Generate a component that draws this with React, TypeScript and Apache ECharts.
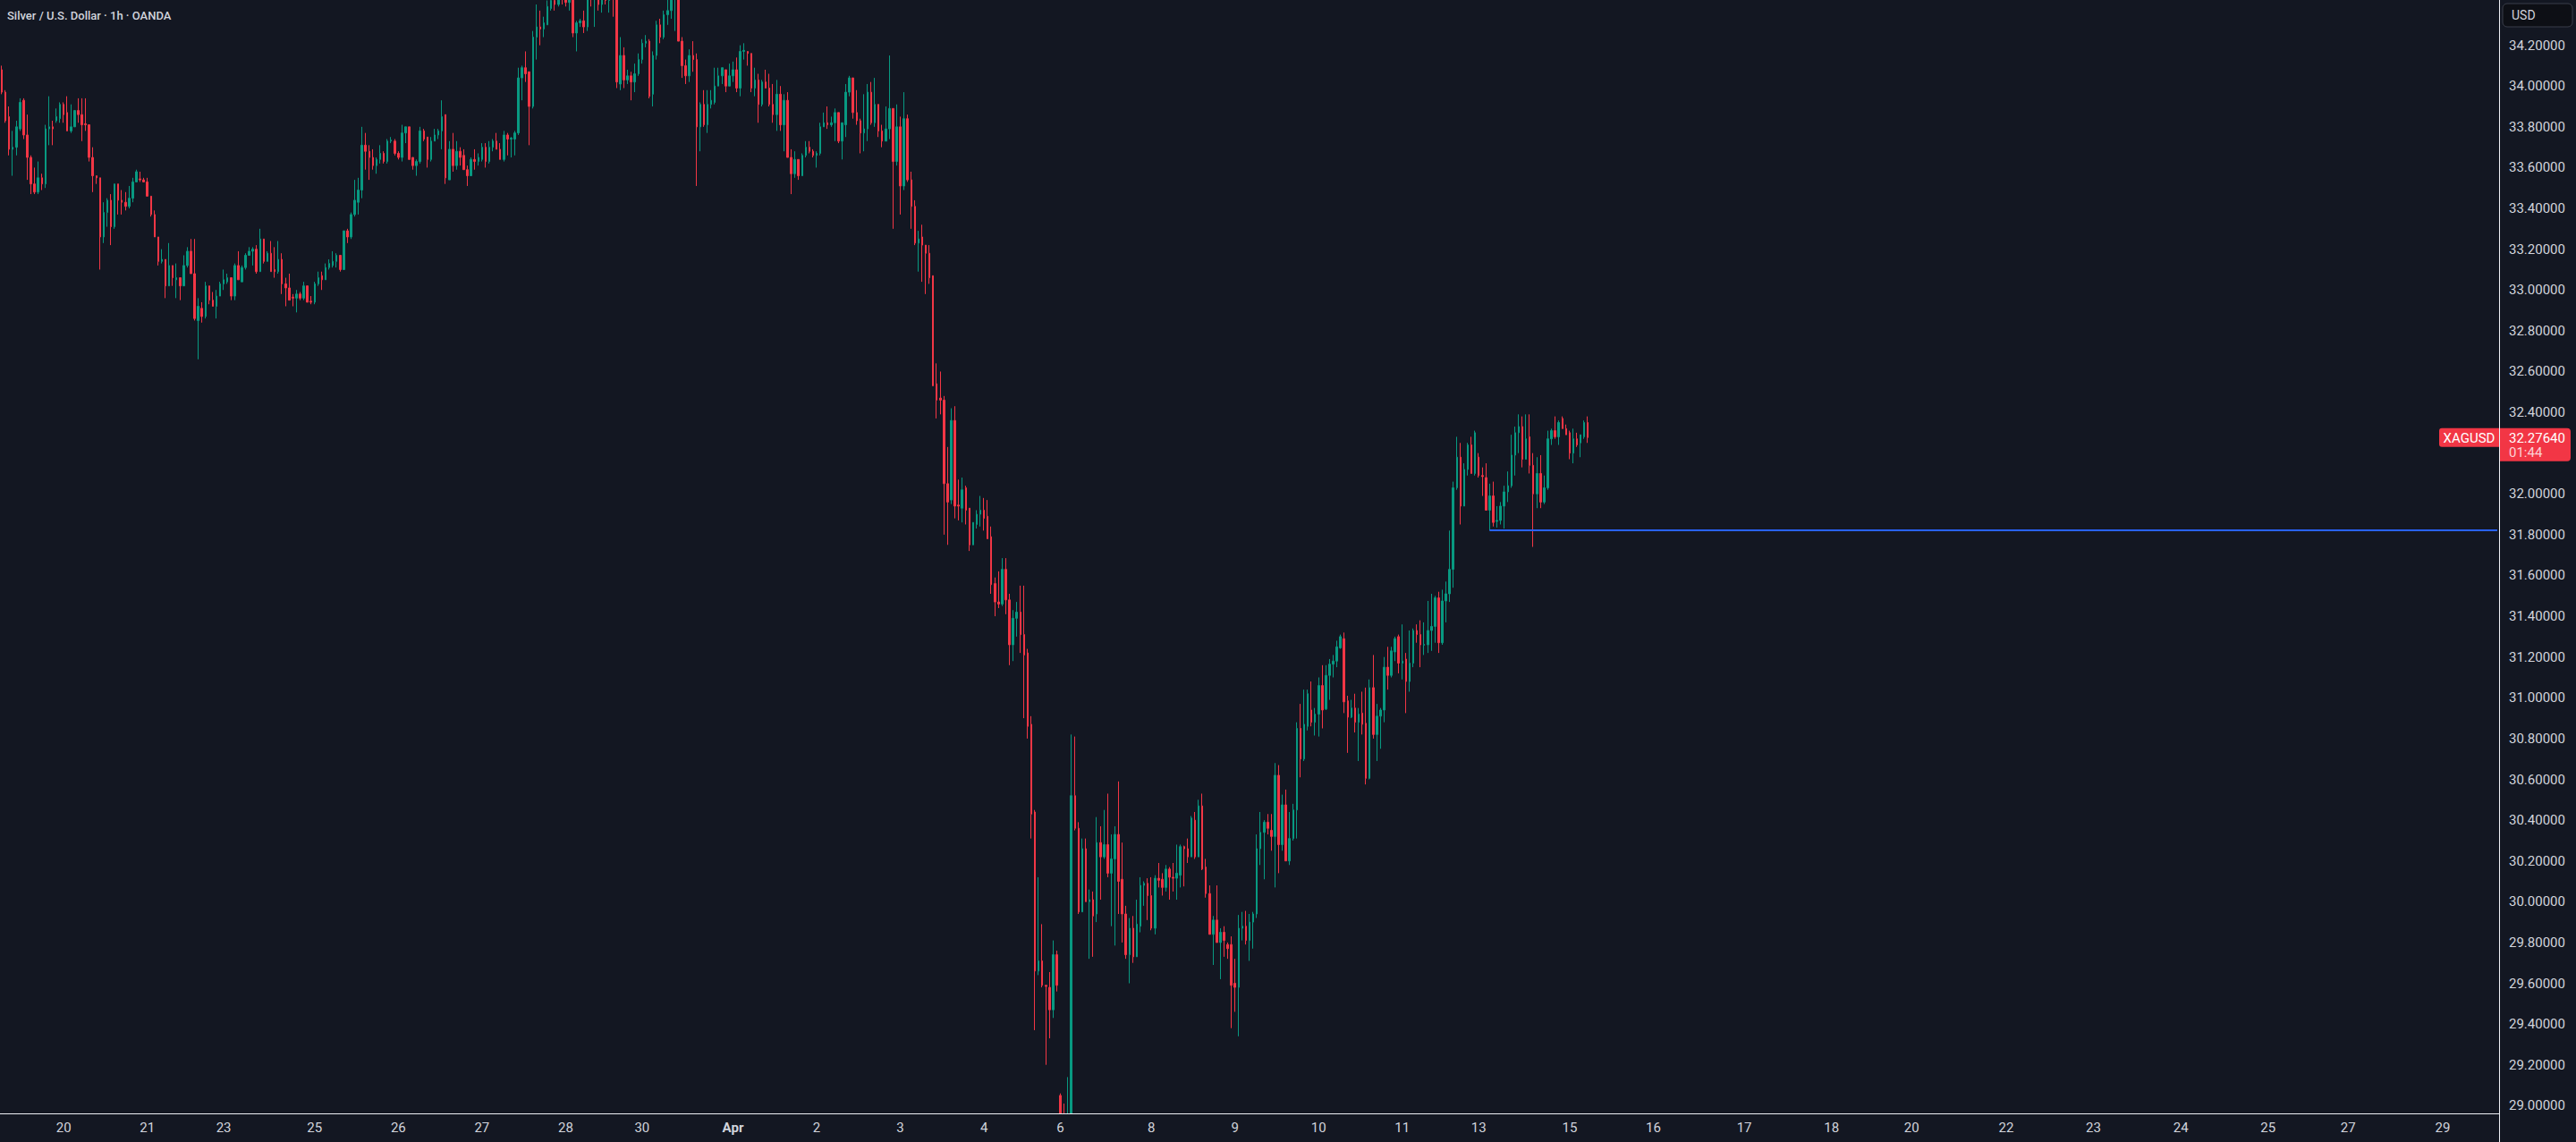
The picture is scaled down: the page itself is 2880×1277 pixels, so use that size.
import React, { useEffect, useRef } from "react";
import * as echarts from "echarts";

// [open, close, low, high] per hourly candle, grouped by trading day
type Candle = [number, number, number, number];

const mar19: Candle[] = [
  [34.08, 33.97, 33.96, 34.1], [33.97, 33.83, 33.82, 33.98], [33.85, 33.69, 33.66, 33.9], [33.69, 33.7, 33.56, 33.78],
  [33.7, 33.8, 33.66, 33.83], [33.79, 33.92, 33.78, 33.94], [33.93, 33.76, 33.74, 33.94], [33.76, 33.65, 33.54, 33.86],
  [33.65, 33.52, 33.47, 33.66], [33.52, 33.48, 33.47, 33.6], [33.48, 33.55, 33.47, 33.63], [33.55, 33.52, 33.49, 33.57],
  [33.52, 33.79, 33.5, 33.81], [33.79, 33.8, 33.71, 33.95], [33.8, 33.79, 33.71, 33.83], [33.83, 33.85, 33.82, 33.89],
  [33.84, 33.91, 33.82, 33.92],
];
const mar20: Candle[] = [
  [33.91, 33.86, 33.82, 33.92], [33.87, 33.78, 33.78, 33.95], [33.78, 33.8, 33.77, 33.91], [33.8, 33.88, 33.8, 33.88],
  [33.88, 33.86, 33.82, 33.94], [33.86, 33.81, 33.73, 33.94], [33.815, 33.81, 33.78, 33.94], [33.81, 33.65, 33.63, 33.81],
  [33.65, 33.56, 33.48, 33.7], [33.56, 33.55, 33.52, 33.56], [33.55, 33.26, 33.1, 33.55], [33.26, 33.38, 33.23, 33.43],
  [33.38, 33.44, 33.31, 33.45], [33.44, 33.31, 33.22, 33.47], [33.31, 33.52, 33.3, 33.52], [33.52, 33.44, 33.37, 33.52],
  [33.44, 33.43, 33.37, 33.49], [33.43, 33.41, 33.39, 33.48], [33.41, 33.45, 33.4, 33.51], [33.45, 33.53, 33.43, 33.55],
  [33.53, 33.58, 33.53, 33.59], [33.545, 33.54, 33.53, 33.58], [33.54, 33.53, 33.53, 33.55],
];
const mar21: Candle[] = [
  [33.53, 33.46, 33.46, 33.55], [33.46, 33.37, 33.36, 33.46], [33.37, 33.26, 33.26, 33.39], [33.26, 33.14, 33.12, 33.26],
  [33.14, 33.15, 33.13, 33.2], [33.15, 33.02, 32.96, 33.15], [33.02, 33.12, 33.02, 33.23], [33.12, 33.06, 33.02, 33.12],
  [33.05, 33.06, 32.96, 33.13], [33.06, 33.02, 32.95, 33.06], [33.02, 33.12, 33.02, 33.17], [33.12, 33.19, 33.11, 33.21],
  [33.19, 33.08, 33.08, 33.25], [33.08, 32.86, 32.85, 33.25], [32.85, 32.92, 32.66, 32.96], [32.91, 32.87, 32.84, 32.94],
  [32.87, 33.02, 32.86, 33.04], [33.02, 32.95, 32.93, 33.02], [32.95, 32.92, 32.92, 32.99], [32.92, 32.97, 32.86, 33.0],
  [32.97, 33.03, 32.97, 33.04],
];
const mar23: Candle[] = [[33.03, 33.05, 33.0, 33.1], [33.04, 33.06, 33.03, 33.08]];
const mar24: Candle[] = [
  [33.06, 32.97, 32.95, 33.06], [32.97, 33.12, 32.95, 33.13], [33.12, 33.05, 33.05, 33.19], [33.04, 33.11, 33.04, 33.12],
  [33.11, 33.17, 33.1, 33.18], [33.17, 33.19, 33.17, 33.21], [33.19, 33.2, 33.12, 33.21], [33.2, 33.09, 33.08, 33.22],
  [33.09, 33.25, 33.09, 33.3], [33.25, 33.14, 33.13, 33.25], [33.14, 33.18, 33.14, 33.19], [33.18, 33.09, 33.09, 33.24],
  [33.1, 33.09, 33.06, 33.21], [33.09, 33.15, 33.08, 33.24], [33.15, 33.03, 32.98, 33.18], [33.03, 33.01, 32.92, 33.06],
  [33.01, 32.95, 32.95, 33.08], [32.965, 32.96, 32.92, 32.98], [32.96, 32.98, 32.89, 33.0], [32.98, 32.96, 32.95, 32.99],
  [32.96, 33.02, 32.95, 33.04], [33.02, 32.94, 32.94, 33.02], [32.945, 32.94, 32.93, 32.97],
];
const mar25: Candle[] = [
  [32.94, 33.03, 32.93, 33.04], [33.03, 33.06, 33.02, 33.09], [33.07, 33.05, 33.0, 33.09], [33.05, 33.11, 33.05, 33.13],
  [33.11, 33.13, 33.1, 33.15], [33.12, 33.14, 33.11, 33.19], [33.14, 33.17, 33.11, 33.18], [33.17, 33.1, 33.09, 33.17],
  [33.1, 33.29, 33.1, 33.29], [33.29, 33.26, 33.23, 33.3], [33.26, 33.37, 33.25, 33.38], [33.37, 33.44, 33.36, 33.54],
  [33.43, 33.49, 33.37, 33.55], [33.49, 33.71, 33.45, 33.8], [33.71, 33.68, 33.59, 33.77], [33.68, 33.65, 33.54, 33.71],
  [33.65, 33.61, 33.59, 33.69], [33.61, 33.64, 33.57, 33.65], [33.64, 33.67, 33.62, 33.71], [33.67, 33.63, 33.62, 33.68],
  [33.63, 33.73, 33.62, 33.74], [33.73, 33.735, 33.72, 33.75], [33.73, 33.67, 33.66, 33.74],
];
const mar26: Candle[] = [
  [33.67, 33.65, 33.64, 33.68], [33.65, 33.77, 33.63, 33.81], [33.77, 33.8, 33.72, 33.8], [33.8, 33.64, 33.64, 33.8],
  [33.65, 33.61, 33.59, 33.65], [33.61, 33.63, 33.56, 33.64], [33.63, 33.78, 33.62, 33.8], [33.78, 33.74, 33.73, 33.79],
  [33.75, 33.64, 33.6, 33.75], [33.64, 33.73, 33.63, 33.75], [33.73, 33.76, 33.73, 33.79], [33.76, 33.78, 33.74, 33.79],
  [33.78, 33.85, 33.69, 33.93], [33.86, 33.55, 33.52, 33.86], [33.54, 33.69, 33.54, 33.73], [33.69, 33.61, 33.58, 33.77],
  [33.61, 33.68, 33.59, 33.73], [33.68, 33.65, 33.61, 33.7], [33.66, 33.59, 33.59, 33.69], [33.59, 33.56, 33.51, 33.61],
  [33.56, 33.64, 33.56, 33.65], [33.64, 33.63, 33.59, 33.69], [33.63, 33.65, 33.61, 33.67],
];
const mar27: Candle[] = [
  [33.64, 33.7, 33.63, 33.72], [33.7, 33.63, 33.6, 33.72], [33.63, 33.7, 33.62, 33.73], [33.7, 33.73, 33.68, 33.74],
  [33.73, 33.69, 33.69, 33.77], [33.69, 33.64, 33.64, 33.72], [33.64, 33.76, 33.63, 33.78], [33.76, 33.74, 33.66, 33.77],
  [33.74, 33.745, 33.65, 33.75], [33.74, 33.77, 33.66, 33.78], [33.77, 34.04, 33.76, 34.09], [34.04, 34.09, 33.93, 34.1],
  [34.09, 34.06, 34.02, 34.17], [34.07, 33.9, 33.71, 34.07], [33.9, 34.24, 33.89, 34.27], [34.24, 34.29, 34.13, 34.4],
  [34.29, 34.28, 34.2, 34.37], [34.28, 34.31, 34.24, 34.34], [34.3, 34.39, 34.3, 34.42], [34.38, 34.42, 34.37, 34.45],
  [34.42, 34.4, 34.37, 34.44], [34.4, 34.43, 34.39, 34.46], [34.45, 34.43, 34.4, 34.48],
];
const mar28: Candle[] = [
  [34.44, 34.41, 34.39, 34.47], [34.41, 34.44, 34.37, 34.49], [34.45, 34.26, 34.24, 34.47], [34.26, 34.31, 34.17, 34.32],
  [34.31, 34.32, 34.29, 34.33], [34.32, 34.29, 34.26, 34.37], [34.29, 34.45, 34.27, 34.48], [34.45, 34.43, 34.39, 34.49],
  [34.43, 34.44, 34.29, 34.47], [34.44, 34.4, 34.37, 34.47], [34.4, 34.44, 34.36, 34.47], [34.44, 34.42, 34.4, 34.46],
  [34.42, 34.45, 34.36, 34.48], [34.46, 34.44, 34.34, 34.5], [34.45, 34.02, 33.99, 34.48], [34.01, 34.15, 33.98, 34.24],
  [34.15, 34.03, 33.99, 34.19], [34.03, 34.05, 34.01, 34.08], [34.05, 34.02, 33.93, 34.07], [34.02, 34.06, 33.97, 34.11],
  [34.06, 34.13, 34.05, 34.16],
];
const mar30: Candle[] = [[34.13, 34.21, 34.11, 34.23], [34.21, 34.22, 34.19, 34.25]];
const mar31: Candle[] = [
  [34.22, 33.95, 33.94, 34.23], [33.96, 34.15, 33.9, 34.17], [34.15, 34.3, 34.13, 34.32], [34.3, 34.24, 34.21, 34.33],
  [34.24, 34.35, 34.23, 34.37], [34.35, 34.37, 34.3, 34.43], [34.37, 34.44, 34.33, 34.47], [34.44, 34.46, 34.27, 34.5],
  [34.47, 34.22, 34.22, 34.49], [34.22, 34.1, 34.04, 34.24], [34.1, 34.05, 34.01, 34.13], [34.05, 34.15, 34.02, 34.18],
  [34.15, 34.13, 34.07, 34.22], [34.13, 33.8, 33.51, 34.16], [33.8, 33.91, 33.68, 33.92], [33.91, 33.81, 33.8, 33.98],
  [33.81, 33.91, 33.77, 33.98], [33.91, 33.93, 33.89, 33.98], [33.92, 34.0, 33.91, 34.09], [34.0, 34.05, 34.0, 34.09],
  [34.05, 34.09, 34.01, 34.09], [34.08, 34.0, 33.97, 34.08], [34.0, 34.05, 34.0, 34.11],
];
const apr01: Candle[] = [
  [34.05, 34.08, 34.02, 34.12], [34.08, 33.99, 33.97, 34.14], [33.99, 34.17, 33.95, 34.2], [34.17, 34.175, 34.13, 34.21],
  [34.17, 34.16, 34.1, 34.17], [34.16, 33.99, 33.97, 34.16], [33.99, 34.03, 33.95, 34.09], [34.03, 33.91, 33.82, 34.06],
  [33.91, 34.02, 33.9, 34.03], [34.02, 33.99, 33.99, 34.08], [33.99, 33.91, 33.9, 34.06], [33.91, 33.86, 33.82, 34.01],
  [33.86, 33.96, 33.78, 34.03], [33.96, 33.81, 33.78, 34.0], [33.81, 33.93, 33.68, 33.96], [33.93, 33.65, 33.65, 33.97],
  [33.65, 33.57, 33.47, 33.69], [33.57, 33.64, 33.55, 33.68], [33.64, 33.56, 33.54, 33.64], [33.56, 33.66, 33.56, 33.67],
  [33.66, 33.7, 33.65, 33.73], [33.7, 33.68, 33.67, 33.73], [33.68, 33.66, 33.65, 33.69],
];
const apr02: Candle[] = [
  [33.66, 33.67, 33.6, 33.68], [33.67, 33.8, 33.66, 33.82], [33.8, 33.82, 33.8, 33.87], [33.82, 33.81, 33.79, 33.9],
  [33.81, 33.82, 33.8, 33.85], [33.82, 33.87, 33.73, 33.89], [33.87, 33.73, 33.72, 33.87], [33.73, 33.82, 33.64, 33.82],
  [33.81, 33.97, 33.75, 34.01], [33.97, 34.04, 33.95, 34.05], [34.04, 33.87, 33.84, 34.04], [33.87, 33.83, 33.81, 33.98],
  [33.83, 33.77, 33.67, 33.84], [33.77, 33.79, 33.68, 33.96], [33.79, 33.97, 33.73, 34.01], [33.97, 33.82, 33.81, 34.02],
  [33.82, 33.91, 33.8, 34.04], [33.91, 33.78, 33.75, 33.91], [33.78, 33.73, 33.7, 33.81], [33.73, 33.79, 33.73, 33.9],
  [33.79, 33.89, 33.74, 34.15], [33.89, 33.63, 33.3, 33.89], [33.63, 33.8, 33.61, 33.91],
];
const apr03: Candle[] = [
  [33.8, 33.51, 33.37, 33.85], [33.51, 33.84, 33.49, 33.97], [33.84, 33.54, 33.53, 33.86], [33.54, 33.41, 33.3, 33.58],
  [33.41, 33.23, 33.22, 33.44], [33.23, 33.25, 33.09, 33.29], [33.26, 33.22, 33.04, 33.32], [33.22, 33.18, 32.98, 33.22],
  [33.18, 33.06, 33.03, 33.22], [33.07, 32.53, 32.53, 33.07], [32.54, 32.46, 32.37, 32.64], [32.47, 32.46, 32.39, 32.6],
  [32.46, 32.05, 31.8, 32.48], [32.05, 31.96, 31.75, 32.23], [31.97, 32.36, 31.95, 32.42], [32.36, 31.94, 31.88, 32.43],
  [31.945, 31.94, 31.87, 32.07], [31.93, 32.02, 31.86, 32.08], [32.03, 31.92, 31.85, 32.04], [31.93, 31.75, 31.72, 31.93],
  [31.75, 31.86, 31.75, 31.86], [31.85, 31.9, 31.83, 31.92], [31.9, 31.92, 31.84, 31.99],
];
const apr04: Candle[] = [
  [31.92, 31.88, 31.82, 31.98], [31.89, 31.78, 31.78, 31.97], [31.79, 31.555, 31.51, 31.84], [31.56, 31.47, 31.4, 31.59],
  [31.47, 31.46, 31.44, 31.62], [31.46, 31.63, 31.45, 31.685], [31.63, 31.48, 31.41, 31.685], [31.48, 31.26, 31.16, 31.51],
  [31.26, 31.39, 31.18, 31.43], [31.39, 31.42, 31.3, 31.47], [31.42, 31.31, 31.22, 31.55], [31.31, 31.21, 30.9, 31.55],
  [31.22, 30.86, 30.8, 31.24], [30.87, 30.43, 30.31, 30.91], [30.44, 29.66, 29.37, 30.45], [29.66, 29.71, 29.64, 30.12],
  [29.71, 29.59, 29.58, 29.89], [29.59, 29.585, 29.2, 29.59], [29.58, 29.47, 29.33, 29.655], [29.47, 29.74, 29.43, 29.81],
  [29.74, 29.59, 29.56, 29.76],
];
const apr06: Candle[] = [[29.05, 28.8, 28.6, 29.06], [28.8, 28.7, 28.55, 29.01]];
const apr07: Candle[] = [
  [28.7, 28.85, 28.3, 29.14], [28.85, 30.52, 28.8, 30.82], [30.52, 30.36, 30.35, 30.81], [30.36, 29.95, 29.94, 30.39],
  [29.95, 30.26, 29.95, 30.31], [30.26, 30.0, 30.0, 30.31], [30.0, 30.01, 29.72, 30.06], [30.01, 29.93, 29.73, 30.05],
  [29.94, 30.29, 29.9, 30.415], [30.29, 30.22, 30.01, 30.37], [30.22, 30.28, 30.21, 30.45], [30.28, 30.14, 30.12, 30.53],
  [30.14, 30.21, 29.88, 30.33], [30.21, 30.33, 29.785, 30.37], [30.33, 30.1, 29.94, 30.59], [30.11, 29.94, 29.8, 30.29],
  [29.94, 29.74, 29.72, 29.98], [29.74, 29.87, 29.6, 29.92], [29.87, 29.73, 29.7, 29.93], [29.73, 29.89, 29.73, 30.01],
  [29.88, 30.08, 29.85, 30.12], [30.08, 30.09, 29.98, 30.1], [30.09, 30.03, 29.91, 30.115],
];
const apr08: Candle[] = [
  [30.03, 29.87, 29.86, 30.12], [29.87, 30.115, 29.84, 30.13], [30.115, 30.105, 30.07, 30.19], [30.11, 30.07, 30.03, 30.14],
  [30.07, 30.16, 30.05, 30.18], [30.16, 30.12, 30.01, 30.17], [30.12, 30.115, 30.05, 30.19], [30.115, 30.14, 30.01, 30.28],
  [30.13, 30.27, 30.07, 30.28], [30.27, 30.26, 30.075, 30.275], [30.26, 30.22, 30.19, 30.31], [30.22, 30.41, 30.22, 30.42],
  [30.4, 30.22, 30.21, 30.44], [30.22, 30.47, 30.22, 30.5], [30.47, 30.16, 30.155, 30.53], [30.17, 30.04, 30.02, 30.21],
  [30.04, 29.84, 29.84, 30.08], [29.84, 29.91, 29.69, 29.93], [29.91, 29.8, 29.8, 30.08], [29.8, 29.85, 29.62, 29.87],
  [29.85, 29.81, 29.73, 29.88], [29.79, 29.77, 29.72, 29.8], [29.79, 29.59, 29.38, 29.83],
];
const apr09: Candle[] = [
  [29.6, 29.58, 29.46, 29.72], [29.58, 29.87, 29.34, 29.935], [29.87, 29.88, 29.81, 29.95], [29.88, 29.81, 29.79, 29.955],
  [29.81, 29.9, 29.71, 29.94], [29.9, 29.94, 29.77, 29.95], [29.94, 30.26, 29.92, 30.33], [30.26, 30.34, 30.18, 30.44],
  [30.34, 30.39, 30.11, 30.4], [30.39, 30.36, 30.33, 30.43], [30.35, 30.32, 30.25, 30.43], [30.32, 30.62, 30.07, 30.68],
  [30.62, 30.28, 30.14, 30.67], [30.28, 30.475, 30.25, 30.525], [30.475, 30.2, 30.2, 30.55], [30.2, 30.31, 30.18, 30.44],
  [30.31, 30.45, 30.3, 30.48], [30.45, 30.85, 30.31, 30.88], [30.85, 30.7, 30.61, 30.97], [30.7, 30.87, 30.69, 31.04],
  [30.86, 31.02, 30.84, 31.04], [30.94, 30.88, 30.86, 31.08], [30.88, 30.92, 30.815, 30.95],
];
const apr10: Candle[] = [
  [30.92, 31.06, 30.81, 31.1], [31.06, 30.94, 30.85, 31.16], [30.945, 31.11, 30.94, 31.16], [31.11, 31.165, 30.99, 31.19],
  [31.165, 31.18, 31.1, 31.21], [31.18, 31.25, 31.15, 31.28], [31.245, 31.3, 31.24, 31.31], [31.29, 30.98, 30.925, 31.32],
  [30.985, 30.905, 30.73, 31.01], [30.905, 30.95, 30.9, 30.99], [30.95, 30.88, 30.83, 31.02], [30.88, 30.92, 30.69, 30.95],
  [30.925, 30.87, 30.82, 31.03], [30.875, 30.605, 30.575, 31.05], [30.605, 31.05, 30.6, 31.09], [31.05, 30.82, 30.8, 31.21],
  [30.82, 30.91, 30.69, 30.97], [30.91, 30.94, 30.75, 30.95], [30.94, 31.15, 30.88, 31.2], [31.15, 31.11, 31.04, 31.25],
  [31.11, 31.23, 31.1, 31.25], [31.225, 31.29, 31.18, 31.3], [31.3, 31.17, 31.12, 31.31],
];
const apr11: Candle[] = [
  [31.17, 31.18, 31.09, 31.36], [31.19, 31.08, 30.925, 31.22], [31.08, 31.17, 31.03, 31.33], [31.17, 31.33, 31.15, 31.34],
  [31.33, 31.31, 31.27, 31.36], [31.31, 31.26, 31.15, 31.38], [31.258, 31.262, 31.21, 31.37], [31.26, 31.33, 31.22, 31.475],
  [31.33, 31.35, 31.23, 31.51], [31.35, 31.49, 31.27, 31.5], [31.49, 31.27, 31.22, 31.52], [31.27, 31.475, 31.26, 31.53],
  [31.475, 31.51, 31.37, 31.57], [31.51, 31.63, 31.47, 31.82], [31.63, 32.03, 31.54, 32.06], [32.03, 32.18, 32.02, 32.28],
  [32.18, 31.94, 31.85, 32.25], [31.94, 32.12, 31.94, 32.15], [32.12, 32.24, 32.09, 32.25], [32.24, 32.1, 32.1, 32.28],
  [32.1, 32.3, 32.09, 32.31],
];
const apr13: Candle[] = [[32.18, 32.09, 32.08, 32.2], [32.09, 32.085, 31.99, 32.13]];
const apr14: Candle[] = [
  [32.08, 31.92, 31.92, 32.15], [31.92, 31.99, 31.82, 32.05], [31.99, 31.86, 31.84, 32.06], [31.865, 31.87, 31.835, 31.94],
  [31.87, 31.94, 31.85, 31.96], [31.94, 32.01, 31.83, 32.04], [32.01, 32.04, 31.96, 32.11], [32.04, 32.19, 32.03, 32.29],
  [32.19, 32.3, 32.09, 32.33], [32.3, 32.33, 32.2, 32.39], [32.33, 32.17, 32.13, 32.38], [32.17, 32.27, 32.17, 32.39],
  [32.28, 32.14, 32.1, 32.39], [32.14, 32.0, 31.74, 32.2], [32.0, 32.1, 31.93, 32.18], [32.1, 31.96, 31.93, 32.19],
  [31.96, 32.03, 31.95, 32.09], [32.03, 32.27, 32.02, 32.31], [32.27, 32.31, 32.24, 32.32], [32.31, 32.28, 32.27, 32.38],
  [32.28, 32.35, 32.24, 32.36], [32.37, 32.32, 32.32, 32.38], [32.32, 32.29, 32.29, 32.34],
];
const apr15: Candle[] = [
  [32.3, 32.2, 32.17, 32.31], [32.2, 32.27, 32.15, 32.32], [32.27, 32.24, 32.23, 32.3], [32.25, 32.29, 32.18, 32.29],
  [32.28, 32.35, 32.27, 32.36], [32.35, 32.2764, 32.25, 32.38],
];

const tradingDays: Candle[][] = [
  mar19, mar20, mar21, mar23, mar24, mar25, mar26, mar27, mar28, mar30, mar31,
  apr01, apr02, apr03, apr04, apr06, apr07, apr08, apr09, apr10, apr11, apr13, apr14, apr15,
];

const FUTURE_SLOTS = 250;

// date labels on the time scale: [bar slot, text]
const dateLabels: [number, string][] = [
  [17, "20"], [40, "21"], [61, "23"], [86, "25"], [109, "26"], [132, "27"], [155, "28"], [176, "30"],
  [201, "Apr"], [224, "2"], [247, "3"], [270, "4"], [291, "6"], [316, "8"], [339, "9"], [362, "10"],
  [385, "11"], [406, "13"], [431, "15"], [454, "16"], [479, "17"], [503, "18"], [525, "20"], [551, "22"],
  [575, "23"], [599, "24"], [623, "25"], [645, "27"], [671, "29"],
];
const monthLabels = ["Apr"];

// price scale ticks
const priceTicks: number[] = [
  29.0, 29.2, 29.4, 29.6, 29.8, 30.0, 30.2, 30.4, 30.6, 30.8, 31.0, 31.2, 31.4, 31.6, 31.8,
  32.0, 32.2, 32.4, 32.6, 32.8, 33.0, 33.2, 33.4, 33.6, 33.8, 34.0, 34.2,
];
const priceMin = 28.962;
const priceMax = 34.422;

const titleText = "Silver / U.S. Dollar · 1h · OANDA";
const currencyText = "USD";
const symbolText = "XAGUSD";
const countdownText = "01:44";

// horizontal support ray
const levelPrice = 31.823;
const levelStartSlot = 409;

const FONT = "Roboto, 'Noto Sans', sans-serif";
const TEXT = "#d1d4dc";
const AXIS = "#eef0f5";
const UP = "#089981";
const DOWN = "#f23645";
const BG = "#131722";

export default function App() {
  const ref = useRef<HTMLDivElement>(null);

  useEffect(() => {
    document.body.style.margin = "0";
    document.body.style.background = BG;
    if (!ref.current) return;
    const chart = echarts.init(ref.current, undefined, { renderer: "svg" });

    const candles = tradingDays.flat();
    const total = candles.length + FUTURE_SLOTS;
    const categories = Array.from({ length: total }, (_, i) => "b" + i);
    const labelMap = new Map<number, string>(dateLabels);
    const lastClose = candles[candles.length - 1][1];

    chart.setOption({
      animation: false,
      backgroundColor: BG,
      grid: { left: 0, right: 86, top: 0, bottom: 32, containLabel: false },
      xAxis: {
        type: "category",
        z: 20,
        data: categories,
        boundaryGap: true,
        axisLine: { show: true, lineStyle: { color: AXIS, width: 1 } },
        axisTick: { show: false },
        splitLine: { show: false },
        axisLabel: {
          interval: (index: number) => labelMap.has(index),
          formatter: (_v: string, index: number) => {
            const t = labelMap.get(index) ?? "";
            return monthLabels.includes(t) ? "{b|" + t + "}" : t;
          },
          color: TEXT,
          fontSize: 15,
          fontFamily: FONT,
          margin: 8,
          hideOverlap: false,
          rich: { b: { color: TEXT, fontSize: 15, fontFamily: FONT, fontWeight: "bold" } },
        },
      },
      yAxis: {
        type: "value",
        position: "right",
        z: 20,
        min: priceMin,
        max: priceMax,
        splitNumber: 27,
        axisLine: { show: true, lineStyle: { color: AXIS, width: 1 } },
        axisTick: { show: false, customValues: priceTicks },
        splitLine: { show: false },
        axisLabel: {
          customValues: priceTicks,
          showMinLabel: true,
          showMaxLabel: true,
          formatter: (v: number) => {
            const k = Math.round(v / 0.2);
            if (Math.abs(v - k * 0.2) > 1e-6 || v > 34.3 || v < 28.99) return "";
            // the last-price tag covers the tick next to it
            if (Math.abs(v - lastClose) < 0.12) return "";
            return v.toFixed(5);
          },
          color: TEXT,
          fontSize: 15,
          fontFamily: FONT,
          margin: 11,
        },
      },
      series: [
        {
          type: "candlestick",
          z: 2,
          data: candles,
          barWidth: 2,
          clip: true,
          itemStyle: {
            color: UP,
            color0: DOWN,
            borderColor: UP,
            borderColor0: DOWN,
            borderWidth: 1,
          },
          markLine: {
            silent: true,
            symbol: ["none", "none"],
            label: { show: false },
            lineStyle: { color: "#2962ff", width: 2, type: "solid" },
            data: [
              [
                { coord: [categories[levelStartSlot], levelPrice] },
                { coord: [categories[total - 1], levelPrice] },
              ],
            ],
          },
        },
      ],
    });

    const py = chart.convertToPixel({ yAxisIndex: 0 }, lastClose) as number;

    chart.setOption({
      graphic: [
        // mask for anything below the time axis (keeps the date labels clean)
        {
          type: "rect",
          z: 10,
          shape: { x: 0, y: 1245.5, width: 2794, height: 32 },
          style: { fill: BG },
        },
        {
          type: "text",
          x: 8,
          y: 17,
          z: 100,
          style: {
            text: titleText,
            fill: TEXT,
            fontSize: 13,
            fontWeight: 500,
            fontFamily: FONT,
            verticalAlign: "middle",
          },
        },
        {
          type: "line",
          z: 100,
          shape: { x1: 2794.5, y1: 1244, x2: 2794.5, y2: 1277 },
          style: { stroke: AXIS, lineWidth: 1 },
        },
        {
          type: "rect",
          z: 100,
          shape: { x: 2798, y: 4, width: 78, height: 26, r: 5 },
          style: { fill: "#0d0f15", stroke: "#3a3e4a", lineWidth: 1 },
        },
        {
          type: "text",
          x: 2808,
          y: 17,
          z: 101,
          style: { text: currencyText, fill: TEXT, fontSize: 14, fontFamily: FONT, verticalAlign: "middle" },
        },
        {
          type: "rect",
          z: 100,
          shape: { x: 2727, y: py - 10.5, width: 67, height: 21, r: [3, 0, 0, 3] },
          style: { fill: DOWN },
        },
        {
          type: "text",
          x: 2760.5,
          y: py + 0.5,
          z: 101,
          style: {
            text: symbolText,
            fill: "#ffffff",
            fontSize: 15,
            fontFamily: FONT,
            align: "center",
            verticalAlign: "middle",
          },
        },
        {
          type: "rect",
          z: 100,
          shape: { x: 2795, y: py - 10.5, width: 79, height: 37, r: [0, 4, 4, 0] },
          style: { fill: DOWN },
        },
        {
          type: "text",
          x: 2805,
          y: py + 0.5,
          z: 101,
          style: {
            text: lastClose.toFixed(5),
            fill: "#ffffff",
            fontSize: 15,
            fontFamily: FONT,
            verticalAlign: "middle",
          },
        },
        {
          type: "text",
          x: 2805,
          y: py + 16.5,
          z: 101,
          style: {
            text: countdownText,
            fill: "rgba(255,255,255,0.78)",
            fontSize: 15,
            fontFamily: FONT,
            verticalAlign: "middle",
          },
        },
      ],
    });

    return () => chart.dispose();
  }, []);

  return <div ref={ref} style={{ width: 2880, height: 1277, background: BG }} />;
}
